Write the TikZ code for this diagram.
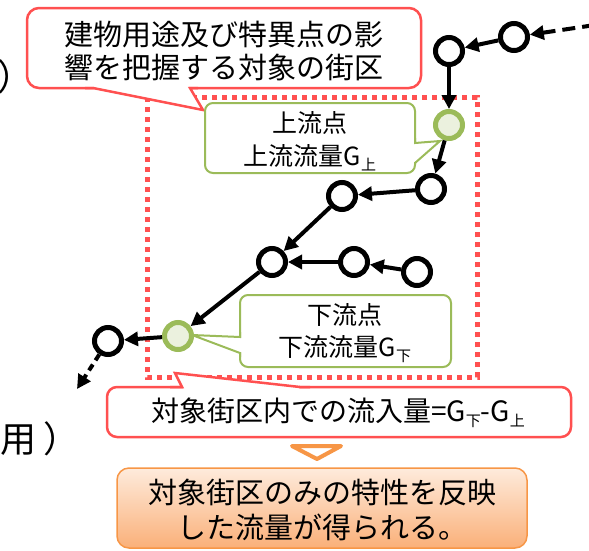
\documentclass[tikz,border=0pt]{standalone}
\usepackage{fontspec}
\setmainfont{Noto Sans CJK JP}
\usetikzlibrary{arrows.meta}
\definecolor{cred}{HTML}{FF5050}
\definecolor{cgreen}{HTML}{9BBB59}
\definecolor{cgfill}{HTML}{EBF1DE}
\definecolor{corange}{HTML}{F79646}
\definecolor{cotop}{HTML}{FEEBDC}
\definecolor{cobot}{HTML}{FAB079}
\newcommand\subj[1]{\raisebox{-5pt}{\fontsize{15pt}{15pt}\selectfont #1}}
\begin{document}
\begin{tikzpicture}[x=1pt,y=-1pt,
  nd/.style={circle,draw=black,line width=5pt,fill=white,minimum size=27pt,inner sep=0pt},
  gnd/.style={circle,draw=cgreen,line width=5pt,fill=cgfill,minimum size=27pt,inner sep=0pt},
  flow/.style={line width=4pt,-{Triangle[length=14pt,width=14pt]}},
  dflow/.style={flow,dash pattern=on 13pt off 7pt},
  dflowb/.style={flow,dash pattern=on 7pt off 5pt},
  redc/.style={draw=cred,line width=2.5pt},
  greenc/.style={draw=cgreen,line width=2pt},
  zone/.style={draw=cred,line width=5pt,dash pattern=on 5pt off 5pt},
  txt/.style={inner sep=0pt,align=center,text=black}]
\useasboundingbox (0,0) rectangle (589,550);

% partial texts at the left edge
\node[txt,anchor=base west,font=\fontsize{36pt}{36pt}\selectfont] (lp1) at (-3,90) {）};
\node[txt,anchor=base west,font=\fontsize{36pt}{36pt}\selectfont] (lp2) at (0,452) {用\hspace{7pt}）};

% target zone
\draw[zone] (147,97) rectangle (477,377);

% top red callout
\draw[redc,fill=white,rounded corners=12pt] (27,8) rectangle (421,88);
\fill[white] (94,86) rectangle (189,89.5);
\fill[white] (93,88) -- (203,110) -- (190,88) -- cycle;
\draw[redc,line join=miter] (85,88) -- (93,88) -- (203,110) -- (190,88) -- (198,88);
\node[txt,font=\fontsize{29pt}{33pt}\selectfont] (t1) at (224,51) {建物用途及び特異点の影\\響を把握する対象の街区};

% green callout upstream
\draw[greenc,fill=white,rounded corners=8pt] (205,103) rectangle (415,173);
\fill[white] (413,144) rectangle (417,162);
\fill[white] (415,143) -- (440,141) -- (415,163) -- cycle;
\draw[greenc] (415,138) -- (415,143) -- (440,141) -- (415,163) -- (415,164);
\node[txt,font=\fontsize{25pt}{33pt}\selectfont] (t2) at (310,141) {上流点\\上流流量G\subj{上}};

% green callout downstream
\draw[greenc,fill=white,rounded corners=8pt] (240,295) rectangle (451,367);
\fill[white] (238,338) rectangle (242,352);
\fill[white] (240,337) -- (192,335) -- (240,353) -- cycle;
\draw[greenc] (240,332) -- (240,337) -- (192,335) -- (240,353) -- (240,357);
\node[txt,font=\fontsize{25pt}{32pt}\selectfont] (t3) at (345,333) {下流点\\下流流量G\subj{下}};

% bottom red callout
\draw[redc,fill=white,rounded corners=10pt] (107,387) rectangle (571,437);
\fill[white] (183,385) rectangle (299,389);
\fill[white] (182,387) -- (175,373) -- (300,387) -- cycle;
\draw[redc,line join=miter] (170,387) -- (182,387) -- (175,373) -- (300,387) -- (310,387);
\node[txt,font=\fontsize{28pt}{32pt}\selectfont] (t4) at (338,413) {対象街区内での流入量=G\subj{下}-G\subj{上}};

% orange result
\draw[corange,line width=4pt,fill=white,line join=round] (292,446) -- (341,446) -- (317,459) -- cycle;
\draw[draw=corange,line width=1.5pt,top color=cotop,bottom color=cobot,rounded corners=12pt] (117,468) rectangle (527,548);
\node[txt,font=\fontsize{29pt}{35pt}\selectfont] (t5) at (322,510) {対象街区のみの特性を反映\\した流量が得られる。};

% network nodes
\node[nd] (n1) at (514,37) {};
\node[nd] (n2) at (449,51) {};
\node[gnd] (gu) at (449,125) {};
\node[nd] (n3) at (431,189) {};
\node[nd] (n4) at (342,196) {};
\node[nd] (n5) at (272,262) {};
\node[nd] (n6) at (354,262) {};
\node[nd] (n7) at (417,272) {};
\node[gnd] (gd) at (178,336) {};
\node[nd] (n8) at (108,341) {};
\coordinate (in) at (595,25);
\coordinate (out) at (77,389);

\draw[dflow] (in) -- (n1);
\draw[flow] (n1) -- (n2);
\draw[flow] (n2) -- (gu);
\draw[flow] (gu) -- (n3);
\draw[flow] (n3) -- (n4);
\draw[flow] (n4) -- (n5);
\draw[flow] (n7) -- (n6);
\draw[flow] (n6) -- (n5);
\draw[flow] (n5) -- (gd);
\draw[flow] (gd) -- (n8);
\draw[dflowb] (n8) -- (out);
\end{tikzpicture}
\end{document}
